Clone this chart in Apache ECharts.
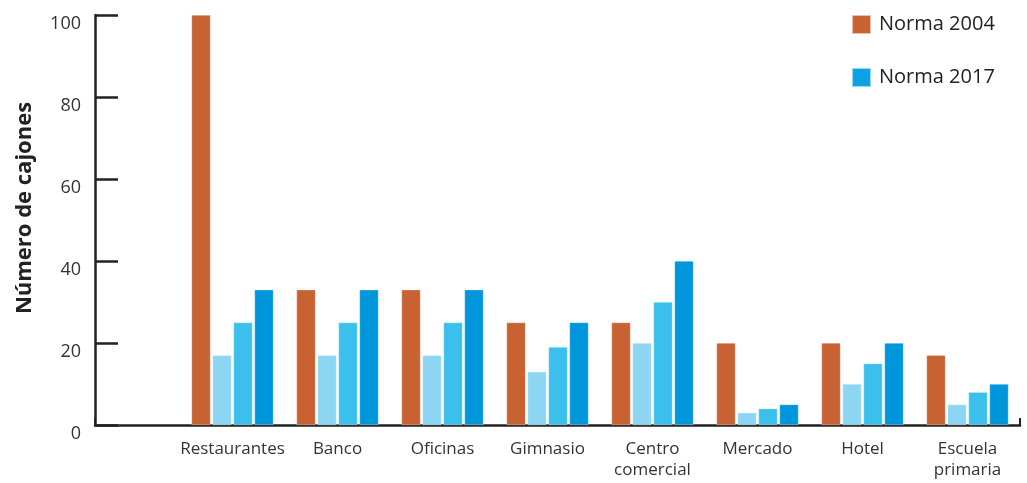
<!DOCTYPE html>
<html>
<head>
<meta charset="utf-8">
<script src="https://cdn.jsdelivr.net/npm/echarts@6/dist/echarts.min.js"></script>
<style>html,body{margin:0;padding:0;background:#fff}#c{width:1027px;height:483px}</style>
</head>
<body>
<div id="c"></div>
<script>
const categories = ['Restaurantes', 'Banco', 'Oficinas', 'Gimnasio', 'Centro\ncomercial', 'Mercado', 'Hotel', 'Escuela\nprimaria'];
const norma2004 = [100, 33, 33, 25, 25, 20, 20, 17];
const norma2017a = [17, 17, 17, 13, 20, 3, 10, 5];
const norma2017b = [25, 25, 25, 19, 30, 4, 15, 8];
const norma2017c = [33, 33, 33, 25, 40, 5, 20, 10];
const yTicks = [0, 20, 40, 60, 80, 100];

const font = '"Open Sans", "Noto Sans", sans-serif';
const chart = echarts.init(document.getElementById('c'), null, {renderer: 'canvas'});
const barW = 19;
function bar(name, data, color) {
  return {
    name: name, type: 'bar', xAxisIndex: 1, yAxisIndex: 1, data: data,
    barWidth: barW, barGap: '10.5%',
    itemStyle: {color: color, borderColor: 'rgba(255,255,255,0.6)', borderWidth: 0.5},
    silent: true
  };
}
chart.setOption({
  animation: false,
  textStyle: {fontFamily: font},
  legend: {
    orient: 'vertical', left: 851, top: 14, padding: 0,
    itemWidth: 19, itemHeight: 19, itemGap: 32,
    icon: 'rect',
    textStyle: {fontSize: 20, color: '#222', fontFamily: font, padding: [0, 0, 0, 3]},
    data: [
      {name: 'Norma 2004'},
      {name: 'Norma 2017', itemStyle: {color: '#0aa2e2'}}
    ],
    selectedMode: false
  },
  grid: [
    {left: 95, right: 7, top: 15, bottom: 58, outerBoundsMode: 'none', containLabel: false},
    {left: 180, right: 7, top: 15, bottom: 58, outerBoundsMode: 'none', containLabel: false}
  ],
  xAxis: [
    {
      gridIndex: 0, type: 'value', min: 0, max: 1, interval: 1,
      axisLine: {show: true, lineStyle: {color: '#222', width: 2.5}},
      axisTick: {show: true, inside: true, length: 7, lineStyle: {color: '#222', width: 2}},
      axisLabel: {show: false}, splitLine: {show: false}
    },
    {
      gridIndex: 1, type: 'category', data: categories,
      axisLine: {show: false}, axisTick: {show: false},
      axisLabel: {interval: 0, fontSize: 17, color: '#333', margin: 14, lineHeight: 21, fontFamily: font}
    }
  ],
  yAxis: [
    {
      gridIndex: 0, type: 'value', min: 0, max: 100, interval: 20,
      name: 'Número de cajones', nameLocation: 'middle', nameGap: 59, nameRotate: 90,
      nameTextStyle: {fontSize: 22, fontWeight: 'bold', color: '#222', fontFamily: font, padding: [0, 0, 0, 24]},
      axisLine: {show: true, lineStyle: {color: '#222', width: 2.5}},
      axisTick: {show: true, inside: true, length: 23, lineStyle: {color: '#222', width: 2.5}},
      axisLabel: {fontSize: 18, color: '#333', margin: 14, fontFamily: font, verticalAlign: 'top', lineHeight: 17},
      splitLine: {show: false}
    },
    {
      gridIndex: 1, type: 'value', min: 0, max: 100, show: false
    }
  ],
  series: [
    bar('Norma 2004', norma2004, '#c86232'),
    bar('Norma 2017', norma2017a, '#8dd6f3'),
    bar('Norma 2017 ', norma2017b, '#3bc0ed'),
    bar('Norma 2017  ', norma2017c, '#0096dc')
  ]
});
</script>
</body>
</html>
